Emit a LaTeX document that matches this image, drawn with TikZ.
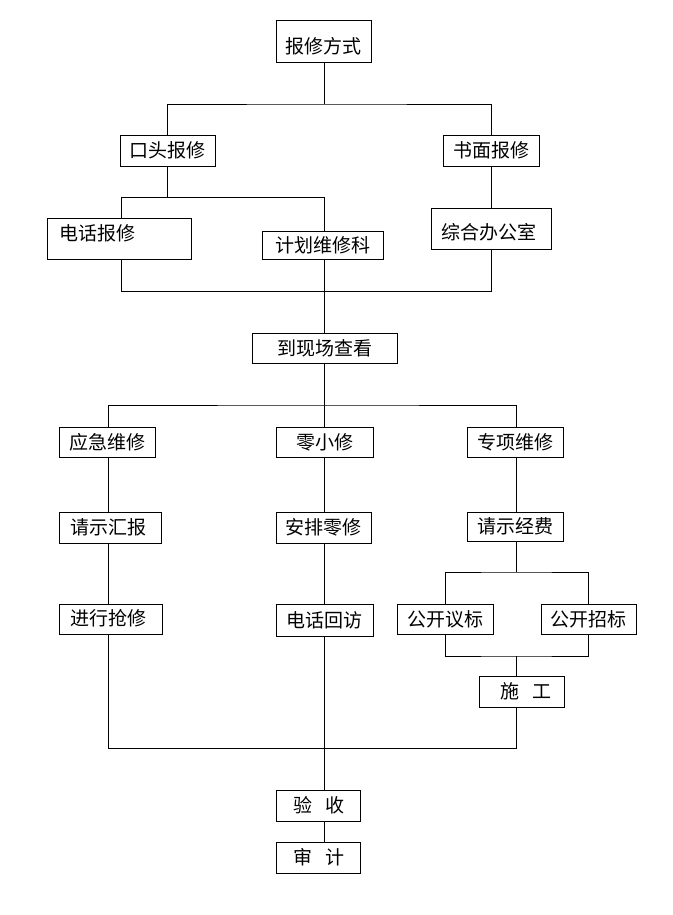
\documentclass[tikz,border=0pt]{standalone}
\usepackage{fontspec}
\setmainfont{Noto Sans CJK SC}
\begin{document}
\begin{tikzpicture}[x=1pt,y=-1pt,
  box/.style={draw, line width=0.9pt, inner sep=0pt, font=\fontsize{19}{19}\selectfont},
  conn/.style={draw, line width=0.9pt},
  lbl/.style={inner sep=0pt, font=\fontsize{19}{19}\selectfont}]
\useasboundingbox (0,0) rectangle (672,915);
\fill[white] (0,0) rectangle (672,915);
% boxes
\node[box, minimum width=95pt, minimum height=42pt] (bxfs) at (323.5,41) {};
\node[lbl] (bxfsT) at (323,46) {报修方式};
\node[box, minimum width=95pt, minimum height=31pt] (ktbx) at (167.5,150.5) {口头报修};
\node[box, minimum width=96pt, minimum height=31pt] (smbx) at (491,150.5) {书面报修};
\node[box, minimum width=144pt, minimum height=41pt] (dhbx) at (119,238.5) {};
\node[lbl] (dhbxT) at (97,233) {电话报修};
\node[box, minimum width=121pt, minimum height=28pt] (jhk) at (322.5,245) {计划维修科};
\node[box, minimum width=120pt, minimum height=41pt] (zhb) at (491,228.5) {};
\node[lbl] (zhbT) at (489,232) {综合办公室};
\node[box, minimum width=145pt, minimum height=30pt] (xc) at (324.5,348) {到现场查看};
\node[box, minimum width=96pt, minimum height=30pt] (yj) at (107,442) {应急维修};
\node[box, minimum width=97pt, minimum height=30pt] (lx) at (324.5,442) {零小修};
\node[box, minimum width=96pt, minimum height=30pt] (zx) at (515,442) {专项维修};
\node[box, minimum width=102pt, minimum height=31pt] (qshb) at (110,527.5) {};
\node[lbl] (qshbT) at (108,527) {请示汇报};
\node[box, minimum width=95pt, minimum height=31pt] (apl) at (323.5,527.5) {安排零修};
\node[box, minimum width=96pt, minimum height=29pt] (qsjf) at (515,526.5) {请示经费};
\node[box, minimum width=103pt, minimum height=30pt] (jxqx) at (110.5,619) {};
\node[lbl] (jxqxT) at (108,618) {进行抢修};
\node[box, minimum width=97pt, minimum height=32pt] (dhhf) at (324.5,620) {电话回访};
\node[box, minimum width=96pt, minimum height=30pt] (gkyb) at (445,619) {公开议标};
\node[box, minimum width=95pt, minimum height=30pt] (gkzb) at (588.5,619) {公开招标};
\node[box, minimum width=85pt, minimum height=31pt] (sg) at (521.5,691.5) {};
\node[lbl] (sgT) at (526,691) {施\hspace{0.7em}工};
\node[box, minimum width=84pt, minimum height=31pt] (ys) at (318,805.5) {};
\node[lbl] (ysT) at (319,805) {验\hspace{0.7em}收};
\node[box, minimum width=84pt, minimum height=31pt] (sj) at (318,857.5) {};
\node[lbl] (sjT) at (319,857) {审\hspace{0.7em}计};
% junctions
\coordinate (h1M) at (324,104);
\coordinate (h2L) at (121,197);
\coordinate (h3L) at (121,291);
\coordinate (h4) at (324,405);
\coordinate (h5) at (516,572);
\coordinate (h6) at (516,656);
\coordinate (h7) at (516,748);
\coordinate (h7L) at (108,748);
\coordinate (vC) at (324,0);
\coordinate (vL) at (108,0);
% connectors
\draw[conn] (bxfs.south -| h1M) -- (h1M);
\draw[conn] (ktbx.north) |- (h1M) -| (smbx.north);
\draw[conn] (ktbx.south) -- (ktbx.south |- h2L);
\draw[conn] (dhbx.north -| h2L) -- (h2L) -| (jhk.north -| vC);
\draw[conn] (smbx.south) -- (zhb.north);
\draw[conn] (dhbx.south -| h3L) -- (h3L) -| (zhb.south);
\draw[conn] (jhk.south -| vC) -- (xc.north -| vC);
\draw[conn] (xc.south -| vC) -- (h4);
\draw[conn] (yj.north -| vL) |- (h4) -| (zx.north -| h5);
\draw[conn] (lx.north -| vC) -- (h4);
\draw[conn] (yj.south -| vL) -- (qshb.north -| vL);
\draw[conn] (qshb.south -| vL) -- (jxqx.north -| vL);
\draw[conn] (lx.south -| vC) -- (apl.north -| vC);
\draw[conn] (apl.south -| vC) -- (dhhf.north -| vC);
\draw[conn] (zx.south -| h5) -- (qsjf.north -| h5);
\draw[conn] (qsjf.south -| h5) -- (h5);
\draw[conn] (gkyb.north) |- (h5) -| (gkzb.north);
\draw[conn] (gkyb.south) |- (h6) -| (gkzb.south);
\draw[conn] (h6) -- (sg.north -| h6);
\draw[conn] (sg.south -| h7) -- (h7) -- (h7L) -- (jxqx.south -| h7L);
\draw[conn] (dhhf.south -| vC) -- (ys.north -| vC);
\draw[conn] (ys.south -| vC) -- (sj.north -| vC);
\end{tikzpicture}
\end{document}
